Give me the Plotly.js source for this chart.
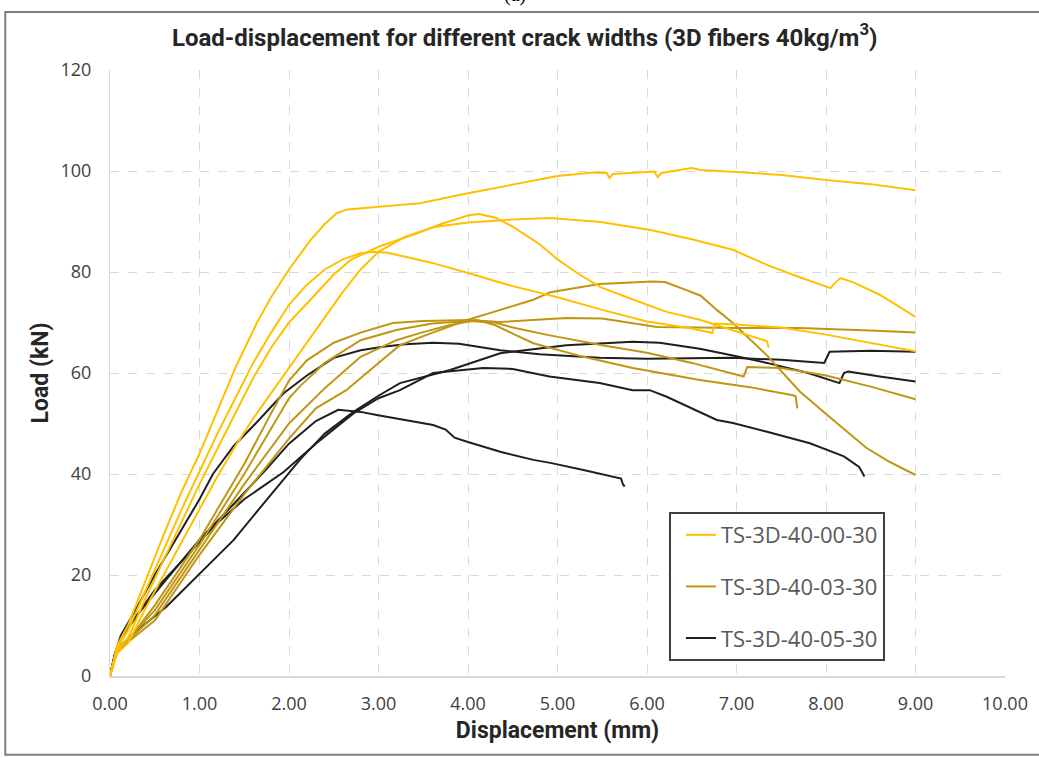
<!DOCTYPE html>
<html>
<head>
<meta charset="utf-8">
<script src="https://cdn.plot.ly/plotly-3.0.1.min.js"></script>
<style>
html,body{margin:0;padding:0;background:#fff;}
#chart{width:1039px;height:758px;}
</style>
</head>
<body>
<div id="chart"></div>
<script>
// ---- Series labels ----
const seriesNames = ["TS-3D-40-00-30", "TS-3D-40-03-30", "TS-3D-40-05-30"];

// ---- TS-3D-40-00-30 (four specimens) ----
const y1_x = [0,0.08,0.2,0.4,0.6,0.8,1.0,1.2,1.4,1.64,1.8,2.0,2.24,2.4,2.53,2.65,2.8,3.0,3.46,4.0,4.5,5.0,5.4,5.55,5.58,5.62,6.0,6.08,6.12,6.16,6.5,6.6,7.0,7.5,8.0,8.5,9.0];
const y1_y = [0,6,10,19,28,36.5,44,52.5,61,69.9,75,80.5,86.3,89.5,91.6,92.4,92.6,92.9,93.6,95.6,97.3,99,99.7,99.6,98.6,99.4,99.8,99.9,98.8,99.6,100.6,100.2,99.8,99.2,98.2,97.4,96.2];

const y2_x = [0,0.08,0.2,0.4,0.6,0.8,1.0,1.2,1.4,1.6,1.8,2.0,2.2,2.4,2.6,2.8,2.95,3.1,3.3,3.6,4.0,4.5,5.0,5.5,6.0,6.5,6.73,6.76,7.0,7.5,8.0,8.5,9.0];
const y2_y = [0,5.5,9,17,25,33,40.5,48,55,62,68,73.5,77.5,80.5,82.5,83.7,84,83.8,83,81.8,79.8,77.2,75,72.5,70.2,68.8,67.9,69.8,69.6,69,67.6,66,64.3];

const y3_x = [0,0.08,0.2,0.4,0.6,0.8,1.0,1.2,1.4,1.6,1.8,2.0,2.2,2.4,2.6,2.8,3.0,3.3,3.62,4.0,4.5,4.92,5.48,6.04,6.5,6.96,7.34,7.7,8.05,8.1,8.16,8.3,8.6,9.0];
const y3_y = [0,4.5,6.5,13.5,20,26.5,33,39.5,45.5,51,56,61,66,71,76,80.5,84,87,88.9,89.8,90.4,90.7,89.9,88.3,86.5,84.4,81.4,79,76.8,77.8,78.8,78,75.5,71.1];

const y4_x = [0,0.08,0.2,0.4,0.6,0.8,1.0,1.2,1.4,1.6,1.8,2.0,2.24,2.5,2.69,3.0,3.44,3.7,4.0,4.12,4.3,4.5,4.8,5.0,5.22,5.48,5.85,6.22,6.6,7.0,7.3,7.34,7.36];
const y4_y = [0,5,7.5,15.5,23,30.5,38,45,52,59,65,70,74.5,79.5,82.4,85,87.7,89.5,91.2,91.5,90.8,89,85.5,82.5,79.8,77,74.5,72.1,70.5,68.3,66.5,66.3,65];

// ---- TS-3D-40-03-30 (four specimens) ----
const o1_x = [0,0.08,0.5,1.0,1.5,2.0,2.3,2.64,3.0,3.24,3.5,3.99,4.36,4.73,4.92,5.47,6.06,6.2,6.44,6.6,6.78,6.96,7.34,7.71,8.08,8.45,8.7,9.0];
const o1_y = [0,5,11,24,36,47,53,56.6,62,65.5,67.3,70.5,72.5,74.5,76,77.6,78.1,78,76.4,75.3,72.5,69.9,63.5,56.3,50.7,45.2,42.5,39.8];

const o2_x = [0,0.08,0.2,0.5,1.0,1.5,1.8,2.0,2.2,2.5,2.8,3.16,3.5,4.0,4.36,5.1,5.5,6.11,7.0,7.7,8.5,9.0];
const o2_y = [0,5.5,7,14,27,42,52,58.5,62.5,66,68,69.9,70.3,70.5,70.1,70.9,70.8,69.1,68.9,68.9,68.4,68];

const o3_x = [0,0.08,0.5,1.0,1.5,2.0,2.13,2.4,2.8,3.2,3.6,4.0,4.3,4.5,4.9,5.5,6.0,6.5,7.08,7.12,7.5,8.0,8.5,9.0];
const o3_y = [0,5,13,26,40,55,57.5,62,66.5,68.5,69.8,70.3,70,69,67.5,65.5,64,62,59.3,61.2,61,59.5,57.3,54.8];

const o4_x = [0,0.08,0.5,1.0,1.5,2.0,2.4,2.8,3.2,3.46,3.8,4.1,4.3,4.5,4.73,5.29,5.84,6.59,7.15,7.63,7.66,7.68];
const o4_y = [0,5,12,25,38,50,57,63.2,66.5,67.9,69.5,70.5,69.5,67.8,65.9,63.2,61,58.6,57.2,55.6,55.4,53];

// ---- TS-3D-40-05-30 (four specimens) ----
const b1_x = [0,0.05,0.12,0.3,0.5,0.7,1.0,1.15,1.38,1.6,1.94,2.2,2.5,2.8,3.05,3.3,3.61,3.9,4.36,4.8,5.47,6.0,6.5,6.96,7.5,7.93,7.98,8.04,8.5,9.0];
const b1_y = [0,4,8,13.5,20,26,35,40,45.5,49.5,56,59.5,63,64.5,65.2,65.7,66,65.8,64.5,63.7,63,62.8,62.9,63,62.6,62,62,64.2,64.4,64.2];

const b2_x = [0,0.05,0.12,0.27,0.63,1.01,1.38,1.75,1.94,2.13,2.4,2.72,3.0,3.24,3.8,4.36,5.1,5.84,6.14,6.59,7.0,7.34,7.8,8.15,8.2,8.25,8.6,9.0];
const b2_y = [0,3.5,6,8.5,13.7,20.4,26.9,34.9,39,43,48,52.3,55.5,58,60.6,63.9,65.5,66.2,66,64.8,63.3,62,60,58,60,60.3,59.3,58.3];

const b3_x = [0,0.05,0.12,0.5,1.0,1.18,1.5,1.94,2.3,2.72,3.0,3.24,3.61,4.17,4.5,4.91,5.47,5.84,6.03,6.22,6.78,6.96,7.33,7.82,8.2,8.37,8.43];
const b3_y = [0,4,7.5,17,26.5,30,35,40.4,46,52,55,56.6,60,61,60.8,59.3,58,56.6,56.6,55.3,50.7,50.1,48.4,46.1,43.5,41.4,39.5];

const b4_x = [0,0.05,0.12,0.3,0.6,1.0,1.38,1.75,2.0,2.3,2.55,2.8,2.98,3.3,3.61,3.75,3.85,3.99,4.36,4.73,4.92,5.29,5.71,5.73,5.75];
const b4_y = [0,4,7.5,12,18.5,27,34,41,46,50.5,52.7,52.3,51.7,50.7,49.7,48.8,47.2,46.4,44.4,42.8,42.2,40.8,39.1,38,37.5];

const colors = ["#FFC000", "#BF9614", "#1F1F1F"];

const groups = [
  {name: seriesNames[0], color: colors[0], curves: [[y1_x,y1_y],[y2_x,y2_y],[y3_x,y3_y],[y4_x,y4_y]]},
  {name: seriesNames[1], color: colors[1], curves: [[o1_x,o1_y],[o2_x,o2_y],[o3_x,o3_y],[o4_x,o4_y]]},
  {name: seriesNames[2], color: colors[2], curves: [[b1_x,b1_y],[b2_x,b2_y],[b3_x,b3_y],[b4_x,b4_y]]}
];

const traces = [];
[2,1,0].forEach(gi => {
  const g = groups[gi];
  g.curves.forEach((c, ci) => {
    traces.push({
      x: c[0], y: c[1], type: 'scatter', mode: 'lines',
      name: g.name, legendgroup: g.name, legendrank: gi + 1,
      showlegend: ci === 0,
      line: {color: g.color, width: 2},
      hoverinfo: 'skip'
    });
  });
});

const fontMain = "Roboto, 'Open Sans', sans-serif";
const grid = {gridcolor: '#D9D9D9', griddash: 'dash', gridwidth: 1};

const layout = {
  width: 1039, height: 758,
  margin: {l: 110, r: 34, t: 70, b: 82, autoexpand: false},
  paper_bgcolor: '#FFFFFF', plot_bgcolor: '#FFFFFF',
  title: {
    text: "<b>Load-displacement for different crack widths (3D fibers 40kg/m<sup>3</sup>)</b>",
    font: {family: fontMain, size: 24, color: '#262626'},
    x: 0.505, xanchor: 'center', xref: 'container',
    y: 0.951, yanchor: 'middle', yref: 'container'
  },
  xaxis: {
    range: [0, 10], dtick: 1, tick0: 0, tickformat: '.2f',
    ...grid,
    showline: true, linecolor: '#D9D9D9', linewidth: 2,
    zeroline: false, ticks: '', ticklabelstandoff: 10,
    tickfont: {family: "'Open Sans', sans-serif", size: 18, color: '#404040'},
    title: {text: "<b>Displacement (mm)</b>", font: {family: fontMain, size: 23, color: '#262626'}, standoff: 8}
  },
  yaxis: {
    range: [0, 120], dtick: 20, tick0: 0,
    ...grid,
    showline: true, linecolor: '#D9D9D9', linewidth: 1,
    zeroline: false, ticks: '', ticklabelstandoff: 14,
    tickfont: {family: "'Open Sans', sans-serif", size: 18, color: '#404040'},
    title: {text: "<b>Load (kN)</b>", font: {family: fontMain, size: 23, color: '#262626'}, standoff: 5}
  },
  showlegend: true,
  legend: {
    x: 0.6245, y: 0.2706, xanchor: 'left', yanchor: 'top',
    bgcolor: '#FFFFFF', bordercolor: '#404040', borderwidth: 2,
    font: {family: "'Open Sans', sans-serif", size: 22, color: '#595959'},
    tracegroupgap: 20, traceorder: 'grouped',
    itemwidth: 30, indentation: 10
  },
  shapes: [
    {type: 'rect', xref: 'paper', yref: 'paper', x0: -0.117, x1: 1.1, y0: -0.13, y1: 1.0957,
     line: {color: '#808080', width: 2}, fillcolor: 'rgba(0,0,0,0)', layer: 'below'}
  ],
  annotations: [
    {text: "(a)", xref: 'paper', yref: 'paper', x: 0.452, y: 1.125, xanchor: 'center', yanchor: 'middle',
     showarrow: false, font: {family: "'Liberation Serif', serif", size: 20, color: '#000'}}
  ]
};

Plotly.newPlot('chart', traces, layout, {displayModeBar: false, staticPlot: true});
</script>
</body>
</html>
